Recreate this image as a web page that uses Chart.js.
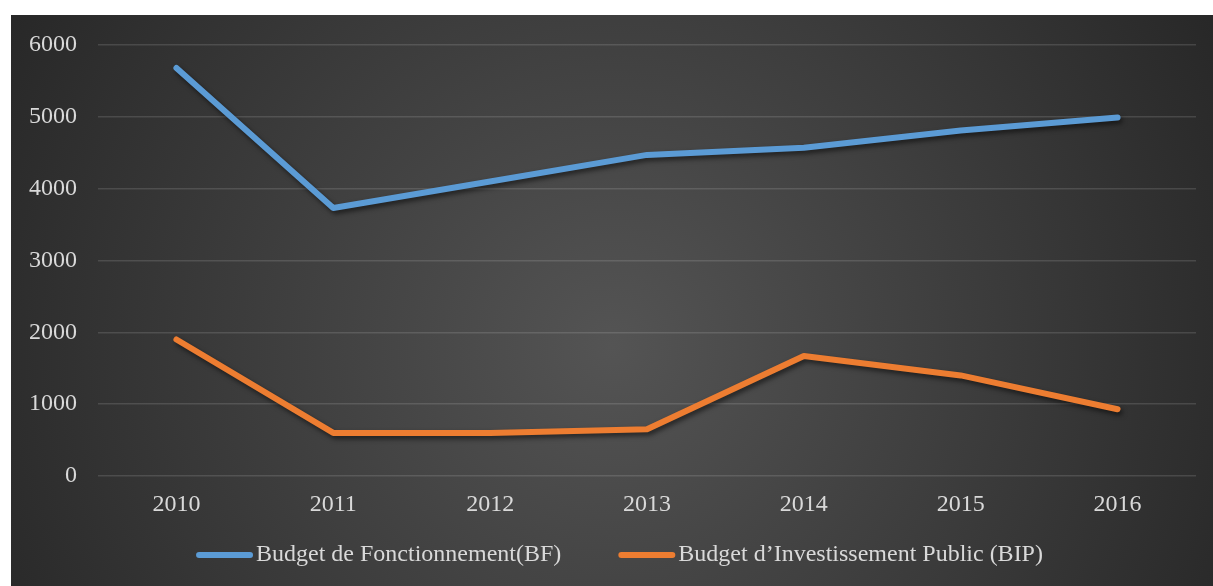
<!DOCTYPE html>
<html>
<head>
<meta charset="utf-8">
<script src="https://cdn.jsdelivr.net/npm/chart.js@4/dist/chart.umd.min.js"></script>
<style>
  html, body { margin: 0; padding: 0; background: #fff; }
  #wrap { position: absolute; left: 11px; top: 15px; width: 1202px; height: 571px; }
</style>
</head>
<body>
<div id="wrap"><canvas id="budget"></canvas></div>
<script>
const years = ['2010', '2011', '2012', '2013', '2014', '2015', '2016'];
const budgetFonctionnement = [5680, 3730, 4100, 4470, 4570, 4810, 4990];
const budgetInvestissement = [1900, 600, 600, 650, 1670, 1400, 930];
const yTicks = [0, 1000, 2000, 3000, 4000, 5000, 6000];

const textColor = '#d9d9d9';
const serif = "'Liberation Serif', 'Times New Roman', serif";

// dark radial backdrop behind the whole chart
const backdrop = {
  id: 'backdrop',
  beforeDraw(chart) {
    const { ctx, width, height } = chart;
    const g = ctx.createRadialGradient(width * 0.5, height * 0.58, 0, width * 0.5, height * 0.58, width * 0.58);
    g.addColorStop(0, '#545454');
    g.addColorStop(1, '#272727');
    ctx.save();
    ctx.fillStyle = g;
    ctx.fillRect(0, 0, width, height);
    ctx.restore();
  }
};

// soft drop shadow under the lines
const lineShadow = {
  id: 'lineShadow',
  beforeDatasetsDraw(chart) {
    const ctx = chart.ctx;
    ctx.save();
    ctx.shadowColor = 'rgba(0, 0, 0, 0.55)';
    ctx.shadowBlur = 5;
    ctx.shadowOffsetX = 2;
    ctx.shadowOffsetY = 3;
  },
  afterDatasetsDraw(chart) {
    chart.ctx.restore();
  }
};

// legend row under the axis: short thick line, then the series name
const lineLegend = {
  id: 'lineLegend',
  afterDraw(chart) {
    const ctx = chart.ctx;
    const swatch = 51, gap = 6, spacing = 60, y = 540;
    ctx.save();
    ctx.font = '24px ' + serif;
    const items = chart.data.datasets.map(ds => ({
      ds, w: swatch + gap + ctx.measureText(ds.label).width
    }));
    const total = items.reduce((s, it) => s + it.w, 0) + spacing * (items.length - 1);
    let x = chart.width / 2 + 9 - total / 2;
    items.forEach(({ ds, w }) => {
      ctx.strokeStyle = ds.borderColor;
      ctx.lineWidth = 6;
      ctx.lineCap = 'round';
      ctx.beginPath();
      ctx.moveTo(x, y);
      ctx.lineTo(x + swatch, y);
      ctx.stroke();
      ctx.fillStyle = textColor;
      ctx.textBaseline = 'middle';
      ctx.textAlign = 'left';
      ctx.fillText(ds.label, x + swatch + gap, y);
      x += w + spacing;
    });
    ctx.restore();
  }
};

new Chart(document.getElementById('budget'), {
  type: 'line',
  data: {
    labels: years,
    datasets: [
      {
        label: 'Budget de Fonctionnement(BF)',
        data: budgetFonctionnement,
        borderColor: '#5b9bd5',
        backgroundColor: '#5b9bd5',
        borderWidth: 6,
        borderCapStyle: 'round',
        borderJoinStyle: 'round',
        pointRadius: 0,
        tension: 0
      },
      {
        label: 'Budget d\u2019Investissement Public (BIP)',
        data: budgetInvestissement,
        borderColor: '#ed7d31',
        backgroundColor: '#ed7d31',
        borderWidth: 6,
        borderCapStyle: 'round',
        borderJoinStyle: 'round',
        pointRadius: 0,
        tension: 0
      }
    ]
  },
  options: {
    responsive: true,
    maintainAspectRatio: false,
    animation: false,
    layout: { padding: { top: 30, right: 17, left: 0, bottom: 65 } },
    plugins: {
      tooltip: { enabled: false },
      legend: { display: false }
    },
    scales: {
      x: {
        offset: true,
        grid: { display: false },
        border: { display: false },
        ticks: { color: textColor, font: { family: serif, size: 24 }, padding: 6 },
        afterFit(scale) { scale.height = 45; }
      },
      y: {
        min: 0,
        max: 6000,
        afterBuildTicks(scale) { scale.ticks = yTicks.map(v => ({ value: v })); },
        grid: { color: 'rgba(255,255,255,0.13)', lineWidth: 1.5, drawTicks: false },
        border: { display: false },
        ticks: {
          color: textColor,
          font: { family: serif, size: 24 },
          padding: 21,
          callback: v => String(v)
        },
        afterFit(scale) {
          scale.width = 87;
          scale.paddingTop = 14;
        }
      }
    }
  },
  plugins: [backdrop, lineShadow, lineLegend]
});
</script>
</body>
</html>
